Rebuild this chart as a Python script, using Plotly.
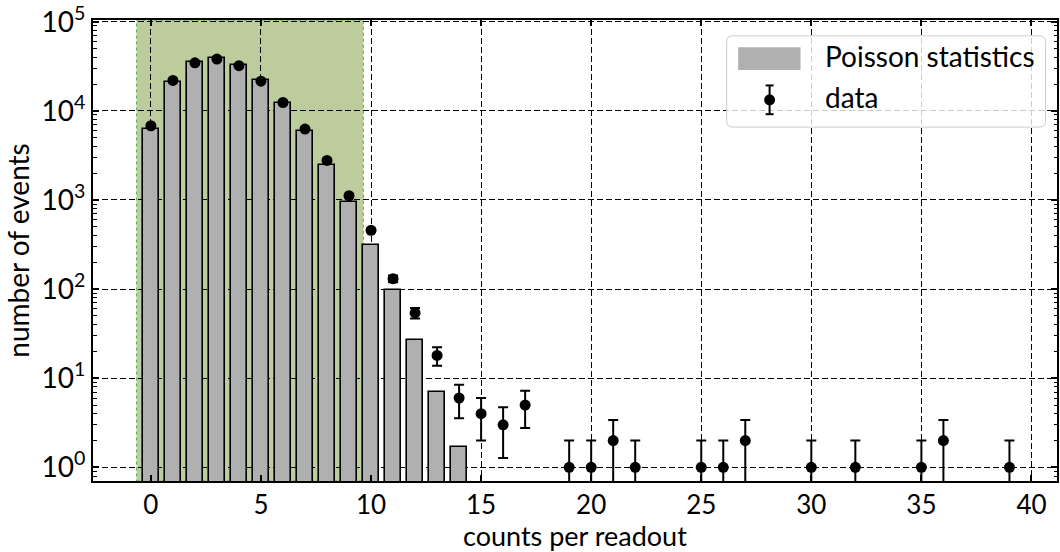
import plotly.graph_objects as go

# ---- data ----
poisson_x = list(range(15))
poisson_y = [6250, 21000, 35000, 39100, 33000, 22100, 12400, 6000, 2490, 940,
             316, 97, 27, 7.0, 1.68]

data_x = [0, 1, 2, 3, 4, 5, 6, 7, 8, 9, 10, 11, 12, 13, 14, 15, 16, 17,
          19, 20, 21, 22, 25, 26, 27, 30, 32, 35, 36, 39]
data_y = [6800, 21900, 34600, 38100, 32100, 21500, 12400, 6250, 2780, 1115,
          456, 131, 54, 18, 6, 4, 3, 5,
          1, 1, 2, 1, 1, 1, 2, 1, 1, 1, 2, 1]
data_err = [82.5, 148, 186, 195, 179, 147, 111, 79, 52.7, 33.4,
            21.4, 11.4, 7.35, 4.24, 2.45, 2.0, 1.73, 2.24,
            1.0, 1.0, 1.41, 1.0, 1.0, 1.0, 1.41, 1.0, 1.0, 1.0, 1.41, 1.0]

x_ticks = [0, 5, 10, 15, 20, 25, 30, 35, 40]
y_tickvals = [1, 10, 100, 1000, 10000, 100000]
y_ticktext = ["10<sup>0</sup>", "10<sup>1</sup>", "10<sup>2</sup>",
              "10<sup>3</sup>", "10<sup>4</sup>", "10<sup>5</sup>"]
span_range = [-0.65, 9.65]
legend_labels = ["Poisson statistics", "data"]
x_title = "counts per readout"
y_title = "number of events"

# ---- layout geometry ----
W, H = 1060, 552
ML, MR, MT, MB = 93, 1, 16, 71
PW, PH = W - ML - MR, H - MT - MB
FONT = "Lato"
FS = 28


def px(xp):
    return (xp - ML) / PW


def py(yp):
    return (H - MB - yp) / PH


fig = go.Figure()

fig.add_trace(go.Bar(
    x=poisson_x, y=poisson_y, width=0.7,
    marker=dict(color="#b0b0b0", line=dict(color="black", width=1.6)),
    name=legend_labels[0], showlegend=False,
))

fig.add_trace(go.Scatter(
    x=data_x, y=data_y, mode="markers",
    marker=dict(color="black", size=11),
    error_y=dict(type="data", array=data_err, arrayminus=data_err,
                 color="black", thickness=2, width=5, visible=True),
    name=legend_labels[1], showlegend=False,
))

shapes = []
# green span
shapes.append(dict(type="rect", xref="x", yref="paper",
                   x0=span_range[0], x1=span_range[1], y0=0, y1=1,
                   fillcolor="rgba(107,142,35,0.45)",
                   line=dict(color="rgba(60,170,60,0.9)", width=1, dash="dot"),
                   layer="between"))

# legend box (rounded)
bx0, bx1, by0, by1, r = 728, 1047.5, 32, 124, 6
path = (f"M {px(bx0 + r)},{py(by0)} L {px(bx1 - r)},{py(by0)} "
        f"Q {px(bx1)},{py(by0)} {px(bx1)},{py(by0 + r)} "
        f"L {px(bx1)},{py(by1 - r)} Q {px(bx1)},{py(by1)} {px(bx1 - r)},{py(by1)} "
        f"L {px(bx0 + r)},{py(by1)} Q {px(bx0)},{py(by1)} {px(bx0)},{py(by1 - r)} "
        f"L {px(bx0)},{py(by0 + r)} Q {px(bx0)},{py(by0)} {px(bx0 + r)},{py(by0)} Z")
shapes.append(dict(type="path", xref="paper", yref="paper", path=path,
                   fillcolor="rgba(255,255,255,0.8)",
                   line=dict(color="#cccccc", width=1), layer="above"))
# legend patch
shapes.append(dict(type="rect", xref="paper", yref="paper",
                   x0=px(739.5), x1=px(802), y0=py(43.5), y1=py(66.5),
                   fillcolor="#b0b0b0", line=dict(width=0), layer="above"))
# legend errorbar symbol
mx, my = 771, 96.5
shapes.append(dict(type="line", xref="paper", yref="paper",
                   x0=px(mx), x1=px(mx), y0=py(82), y1=py(111),
                   line=dict(color="black", width=2), layer="above"))
for yy in (82, 111):
    shapes.append(dict(type="line", xref="paper", yref="paper",
                       x0=px(mx - 4), x1=px(mx + 4), y0=py(yy), y1=py(yy),
                       line=dict(color="black", width=2), layer="above"))
shapes.append(dict(type="circle", xref="paper", yref="paper",
                   x0=px(mx - 5.5), x1=px(mx + 5.5), y0=py(my - 5.5), y1=py(my + 5.5),
                   fillcolor="black", line=dict(color="black", width=0), layer="above"))

annotations = [
    dict(text=legend_labels[0], xref="paper", yref="paper", x=px(825), y=py(52),
         xanchor="left", yanchor="middle", showarrow=False,
         font=dict(family=FONT, size=FS, color="black")),
    dict(text=legend_labels[1], xref="paper", yref="paper", x=px(825), y=py(94),
         xanchor="left", yanchor="middle", showarrow=False,
         font=dict(family=FONT, size=FS, color="black")),
    dict(text=x_title, xref="paper", yref="paper", x=0.5, y=py(535.5),
         xanchor="center", yanchor="middle", showarrow=False, borderpad=0,
         font=dict(family=FONT, size=27, color="black")),
]

minor_vals = [m * 10 ** k for k in range(-1, 5) for m in range(2, 10)]

fig.update_layout(
    width=W, height=H,
    margin=dict(l=ML, r=MR, t=MT, b=MB, pad=0),
    paper_bgcolor="white", plot_bgcolor="white",
    font=dict(family=FONT, size=FS, color="black"),
    shapes=shapes, annotations=annotations, showlegend=False,
    bargap=0,
)

fig.update_xaxes(
    range=[-2.63, 41.16], tickmode="array", tickvals=x_ticks,
    ticks="inside", ticklen=6, tickwidth=1.5, tickcolor="black",
    showline=True, linecolor="black", linewidth=2, mirror="allticks",
    showgrid=True, gridcolor="black", gridwidth=1, griddash="6px,3px",
    zeroline=False, ticklabeloverflow="allow",
    tickfont=dict(family=FONT, size=26),
)

fig.update_yaxes(
    type="log", range=[-0.153, 5.019], tickmode="array",
    tickvals=y_tickvals, ticktext=y_ticktext,
    ticks="inside", ticklen=6, tickwidth=1.5, tickcolor="black",
    minor=dict(tickmode="array", tickvals=minor_vals, ticks="inside",
               ticklen=3.5, tickwidth=1, tickcolor="black", showgrid=False),
    showline=True, linecolor="black", linewidth=2, mirror="allticks",
    showgrid=True, gridcolor="black", gridwidth=1, griddash="6px,3px",
    zeroline=False, ticklabeloverflow="allow",
    tickfont=dict(family=FONT, size=FS),
    title=dict(text=y_title, font=dict(family=FONT, size=FS), standoff=4),
)

fig.write_html("out.html")
